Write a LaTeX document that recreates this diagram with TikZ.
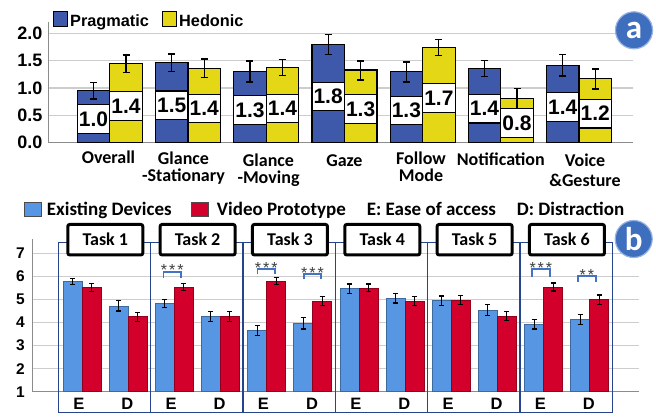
\documentclass[tikz,border=0pt]{standalone}
\usepackage{fontspec}
\setmainfont{Liberation Sans}
\newfontfamily\calfont{Carlito}

\definecolor{prag}{RGB}{62,88,170}
\definecolor{hedo}{RGB}{228,215,22}
\definecolor{exist}{RGB}{86,150,226}
\definecolor{video}{RGB}{210,0,42}
\definecolor{panelblue}{RGB}{38,68,140}
\definecolor{sigblue}{RGB}{68,114,196}
\definecolor{gridgray}{RGB}{205,205,205}
\definecolor{axisgray}{RGB}{140,140,140}
\definecolor{badgefill}{RGB}{62,110,190}

\tikzset{
  grid line/.style={draw=gridgray, line width=1.3pt},
  axis line/.style={draw=axisgray, line width=1.3pt},
  uxbar/.style={draw=black, line width=1.2pt},
  studybar/.style={line width=0.7pt},
  valbox/.style={draw=black, line width=1.1pt, fill=white, inner sep=0pt,
    minimum width=32.5pt, minimum height=28.6pt,
    font=\fontsize{21}{21}\selectfont\bfseries},
  errbar/.style={draw=black, line width=1.2pt},
  ticklabel/.style={anchor=east, inner sep=0pt, font=\fontsize{18}{18}\selectfont\bfseries},
  ticklabelb/.style={anchor=east, inner sep=0pt, font=\fontsize{15.5}{15.5}\selectfont\bfseries},
  catlabel/.style={anchor=north, inner sep=0pt, align=center,
    font=\calfont\bfseries\fontsize{18}{17}\selectfont},
  legendtext/.style={anchor=base west, inner sep=0pt},
  panel/.style={draw=panelblue, line width=1.5pt},
  taskbox/.style={draw=black, fill=white, line width=3pt, rounded corners=2pt,
    minimum width=75pt, minimum height=30.5pt, inner sep=0pt,
    font=\calfont\bfseries\fontsize{18}{18}\selectfont},
  sig/.style={draw=sigblue, line width=1.6pt},
  stars/.style={anchor=base, inner sep=0pt, text={rgb,255:red,60;green,60;blue,60},
    font=\fontsize{16}{16}\selectfont},
  badge/.style={circle, fill=badgefill, draw={rgb,255:red,150;green,178;blue,225},
    line width=1.2pt, minimum size=37pt, inner sep=0pt, text=white,
    font=\calfont\bfseries\fontsize{33}{33}\selectfont},
  edlabel/.style={inner sep=0pt, font=\fontsize{16.5}{16.5}\selectfont\bfseries},
}

% one UX-score bar: left x, height, label centre, label, error low, error high, colour, name
\newcommand\uxscorebar[8]{%
  \fill[#7] (#1,0) rectangle ++(32.5,#2);
  \node[valbox] (#8) at (#1+16.25,#3) {#4};
  \draw[uxbar] (#1,0) rectangle ++(32.5,#2);
  \draw[errbar] (#1+12.75,#5) -- (#1+19.75,#5)
                (#1+16.25,#5) -- (#1+16.25,#6)
                (#1+12.75,#6) -- (#1+19.75,#6);
}
% one rating bar: left x, mean, half error, colour
\newcommand\ratingbar[4]{%
  \filldraw[studybar, fill=#4, draw=#4!70!black] (#1,1) rectangle ++(19,#2-1);
  \draw[errbar] (#1+7,#2-#3) -- (#1+12,#2-#3)
                (#1+9.5,#2-#3) -- (#1+9.5,#2+#3)
                (#1+7,#2+#3) -- (#1+12,#2+#3);
}
% significance bracket: x1, x2, top y, legs' end y, stars
\newcommand\sigmark[5]{%
  \draw[sig] (#1,#4) -- (#1,#3) -- (#2,#3) -- (#2,#4);
  \node[stars] at ({(#1+#2)/2},#3+4) {#5};
}

\begin{document}
\begin{tikzpicture}[x=1pt, y=-1pt]
\useasboundingbox (0,0) rectangle (656,416);

%% ---------------- upper chart: UX scores ----------------
\fill[prag] (53.3,11.7) rectangle (67.7,26);
\draw[black, line width=0.6pt] (53.3,11.7) rectangle (67.7,26);
\node[legendtext, font=\fontsize{16.3}{16.3}\selectfont\bfseries] (legPrag) at (70,26) {Pragmatic};
\fill[hedo] (162.3,11.7) rectangle (176.7,26);
\draw[black, line width=0.6pt] (162.3,11.7) rectangle (176.7,26);
\node[legendtext, font=\fontsize{16.3}{16.3}\selectfont\bfseries] (legHedo) at (179,26) {Hedonic};

\begin{scope}[shift={(0,142.7)}, y=54.7pt]
  \foreach \v in {0.5,1,1.5,2}
    \draw[grid line] (48.3,\v) -- (633,\v);
  \foreach \v/\t in {0/0.0,0.5/0.5,1/1.0,1.5/1.5,2/2.0}
    \node[ticklabel] (ya\t) at (42.5,\v) {\t};
  \draw[axis line] (48.3,2.21) -- (48.3,0) -- (633,0);

  \foreach \gi/\pmean/\pmid/\ptxt/\plow/\phigh/\hmean/\hmid/\htxt/\hlow/\hhigh in {
      0/0.96/0.433/1.0/0.799/1.104/1.45/0.674/1.4/1.287/1.603,
      1/1.46/0.683/1.5/1.298/1.622/1.36/0.628/1.4/1.196/1.530,
      2/1.30/0.601/1.3/1.110/1.494/1.38/0.628/1.4/1.225/1.525,
      3/1.80/0.847/1.8/1.616/1.982/1.33/0.613/1.3/1.146/1.494,
      4/1.30/0.589/1.3/1.110/1.475/1.74/0.821/1.7/1.590/1.883,
      5/1.35/0.622/1.4/1.207/1.499/0.81/0.364/0.8/0.629/0.995,
      6/1.41/0.655/1.4/1.219/1.609/1.17/0.531/1.2/0.982/1.347} {
    \pgfmathsetmacro\gx{77.3+78.2*\gi}
    \pgfmathsetmacro\hx{\gx+32.5}
    \uxscorebar{\gx}{\pmean}{\pmid}{\ptxt}{\plow}{\phigh}{prag}{pv\gi}
    \uxscorebar{\hx}{\hmean}{\hmid}{\htxt}{\hlow}{\hhigh}{hedo}{hv\gi}
  }
\end{scope}

\node[catlabel] (catOverall) at (108.5,150.3) {Overall};
\node[catlabel] (catGS)      at (183.5,152) {Glance\\-Stationary};
\node[catlabel] (catGM)      at (268.5,153.7) {Glance\\-Moving};
\node[catlabel] (catGaze)    at (344.4,154.6) {Gaze};
\node[catlabel] (catFollow)  at (421,152) {Follow\\Mode};
\node[catlabel] (catNotif)   at (500.8,152.6) {Notification};
\node[catlabel] (catVoice)   at (585,153.6) {Voice\\[3pt]\&Gesture};

\node[badge] (badgeA) at (634,30.3) {a};

%% ---------------- lower chart: task ratings ----------------
\fill[exist] (24.3,202.7) rectangle (41,216.7);
\draw[black!70, line width=0.8pt] (24.3,202.7) rectangle (41,216.7);
\node[legendtext, font=\calfont\bfseries\fontsize{19}{19}\selectfont] (legExist) at (46.7,215) {Existing Devices};
\fill[video] (191.7,202.7) rectangle (208.3,216.7);
\draw[black!70, line width=0.8pt] (191.7,202.7) rectangle (208.3,216.7);
\node[legendtext, font=\calfont\bfseries\fontsize{19}{19}\selectfont] (legVideo) at (216.7,215) {Video Prototype};
\node[legendtext, font=\calfont\bfseries\fontsize{19}{19}\selectfont] (legE) at (366.7,215) {E: Ease of access};
\node[legendtext, font=\calfont\bfseries\fontsize{19}{19}\selectfont] (legD) at (516.7,215) {D: Distraction};

\begin{scope}[shift={(0,414.76)}, y=23.06pt]
  \foreach \v in {2,...,7}
    \draw[grid line] (32.3,\v) -- (639.3,\v);
  \foreach \v in {1,...,7}
    \node[ticklabelb] (yb\v) at (25,\v) {\v};
  \draw[axis line] (32.3,7.61) -- (32.3,1) -- (639.3,1);

  \foreach \ti/\ma/\ea/\mb/\eb/\mc/\ec/\md/\ed in {
      0/5.77/0.13/5.51/0.17/4.72/0.22/4.25/0.20,
      1/4.83/0.18/5.54/0.16/4.25/0.22/4.25/0.22,
      2/3.65/0.22/5.80/0.15/3.97/0.25/4.93/0.20,
      3/5.47/0.20/5.50/0.17/5.05/0.20/4.93/0.20,
      4/4.95/0.20/4.98/0.20/4.54/0.23/4.28/0.20,
      5/3.92/0.20/5.54/0.17/4.14/0.22/4.99/0.20} {
    \pgfmathsetmacro\px{58.3+92.33*\ti}
    \ratingbar{\px+4.7}{\ma}{\ea}{exist}
    \ratingbar{\px+23.7}{\mb}{\eb}{video}
    \ratingbar{\px+50.7}{\mc}{\ec}{exist}
    \ratingbar{\px+69.7}{\md}{\ed}{video}
  }
\end{scope}

% task panels with their titles and E / D labels
\foreach \ti in {0,...,5} {
  \pgfmathsetmacro\px{58.3+92.33*\ti}
  \pgfmathtruncatemacro\tn{\ti+1}
  \draw[panel] (\px,242.3) rectangle (\px+92.33,412.7);
  \node[edlabel] (e\tn) at (\px+20.5,404.3) {E};
  \node[edlabel] (d\tn) at (\px+69,404.3) {D};
}
\foreach \ti in {0,...,5} {
  \pgfmathsetmacro\px{58.3+92.33*\ti}
  \pgfmathtruncatemacro\tn{\ti+1}
  \node[taskbox] (task\tn) at (\px+47,239.7) {Task \tn};
}

% significance marks
\sigmark{163.3}{181}{271.7}{278.3}{*\hspace{2pt}*\hspace{2pt}*}
\sigmark{257.3}{275}{269}{274.3}{*\hspace{2pt}*\hspace{2pt}*}
\sigmark{304}{321}{274}{279.3}{*\hspace{2pt}*\hspace{2pt}*}
\sigmark{531.7}{550}{269}{276.7}{*\hspace{2pt}*\hspace{2pt}*}
\sigmark{577.7}{596}{276}{282.3}{*\hspace{2pt}*}

\node[badge] (badgeB) at (633.7,239) {b};
\end{tikzpicture}
\end{document}
